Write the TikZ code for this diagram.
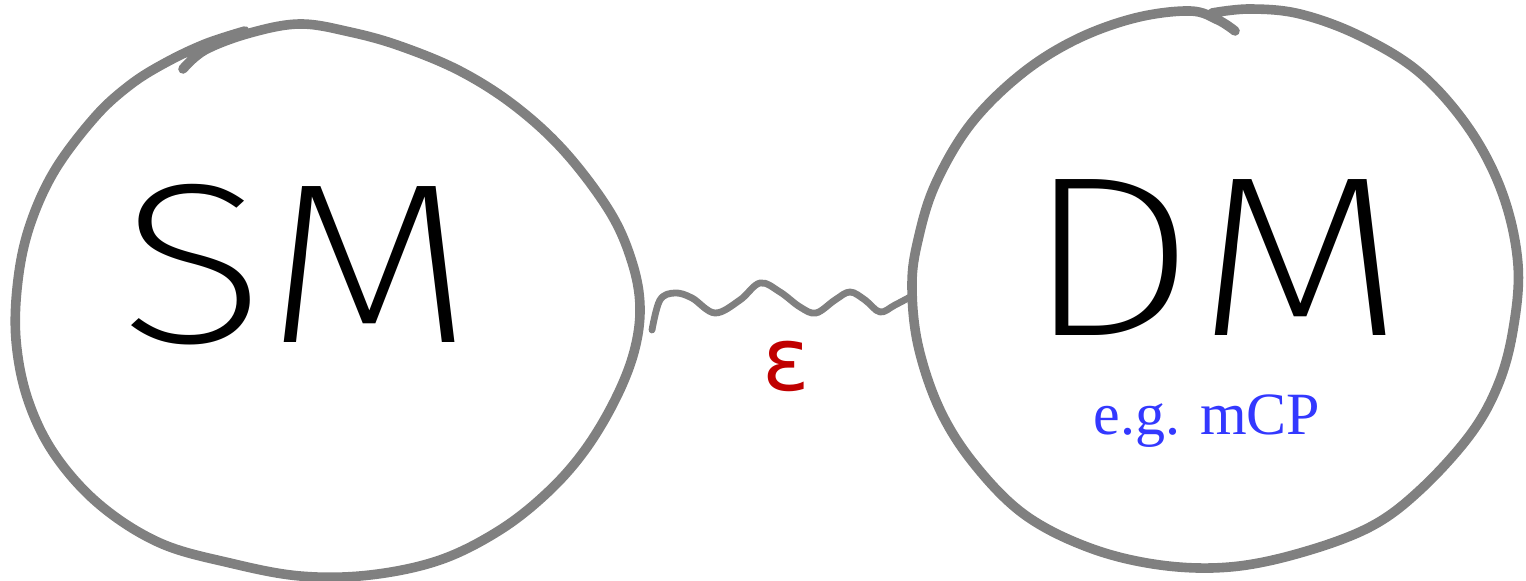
\documentclass[tikz,border=0pt]{standalone}
\usepackage{fontspec}
\newfontfamily\handfont{Fira Sans ExtraLight}
\newfontfamily\epsfont{DejaVu Sans}
\newfontfamily\egfont{Liberation Serif}
\definecolor{blobgray}{RGB}{128,128,128}
\definecolor{epsred}{RGB}{192,0,0}
\definecolor{egblue}{RGB}{51,56,255}
\tikzset{
  blob/.style={draw=blobgray, line width=4.8pt, line cap=round, line join=round},
  wiggle/.style={draw=blobgray, line width=3.4pt, line cap=round, line join=round},
  handtext/.style={font=\handfont\fontsize{114}{114}\selectfont, text=black, inner sep=0pt, xscale=1.2},
  epslabel/.style={font=\epsfont\fontsize{44}{44}\selectfont, text=epsred, inner sep=0pt},
  eglabel/.style={font=\egfont\fontsize{30}{30}\selectfont, text=egblue, inner sep=0pt}
}
\begin{document}
\begin{tikzpicture}[x=0.5pt,y=-0.5pt]
\useasboundingbox (0,0) rectangle (1526,581);
% SM blob
\draw[blob] plot[smooth, tension=0.6] coordinates {
 (183,69) (205,50) (250,33) (300,24) (350,32) (400,46) (460,71) (515,106)
 (565,152) (610,212) (632,262) (640,307) (634,352) (615,400) (585,450)
 (548,492) (500,530) (440,560) (370,575) (300,576) (230,563) (160,543)
 (100,505) (55,455) (28,400) (16,340) (18,280) (30,225) (55,170) (95,117)
 (130,85) (165,63) (205,44) (245,31)};
% DM blob
\draw[blob] plot[smooth, tension=0.6] coordinates {
 (1212,13) (1250,9) (1300,14) (1360,36) (1420,73) (1470,130) (1503,195)
 (1518,265) (1513,330) (1498,385) (1470,435) (1420,490) (1370,527)
 (1300,553) (1230,567) (1160,565) (1090,548) (1025,515) (975,465)
 (940,410) (918,345) (912,285) (918,240) (935,185) (970,125) (1020,75)
 (1075,40) (1135,18) (1190,11) (1218,20) (1235,31)};
% connector end points
\coordinate (wl) at (652,330);
\coordinate (wr) at (912,296);
\draw[wiggle] plot[smooth, tension=0.6] coordinates {
 (wl) (660,300) (675,293) (692,298) (715,313) (740,300) (760,283) (780,292)
 (800,307) (816,313) (835,300) (850,292) (865,300) (880,312) (895,305) (wr)};
% labels
\node[handtext] (sm) at (297,265) {SM};
\node[handtext] (dm) at (1215,258) {DM};
\node[epslabel] (eps) at (786,366) {ε};
\node[eglabel, anchor=base] (eg) at (1207,435) {e.g. mCP};
\end{tikzpicture}
\end{document}
